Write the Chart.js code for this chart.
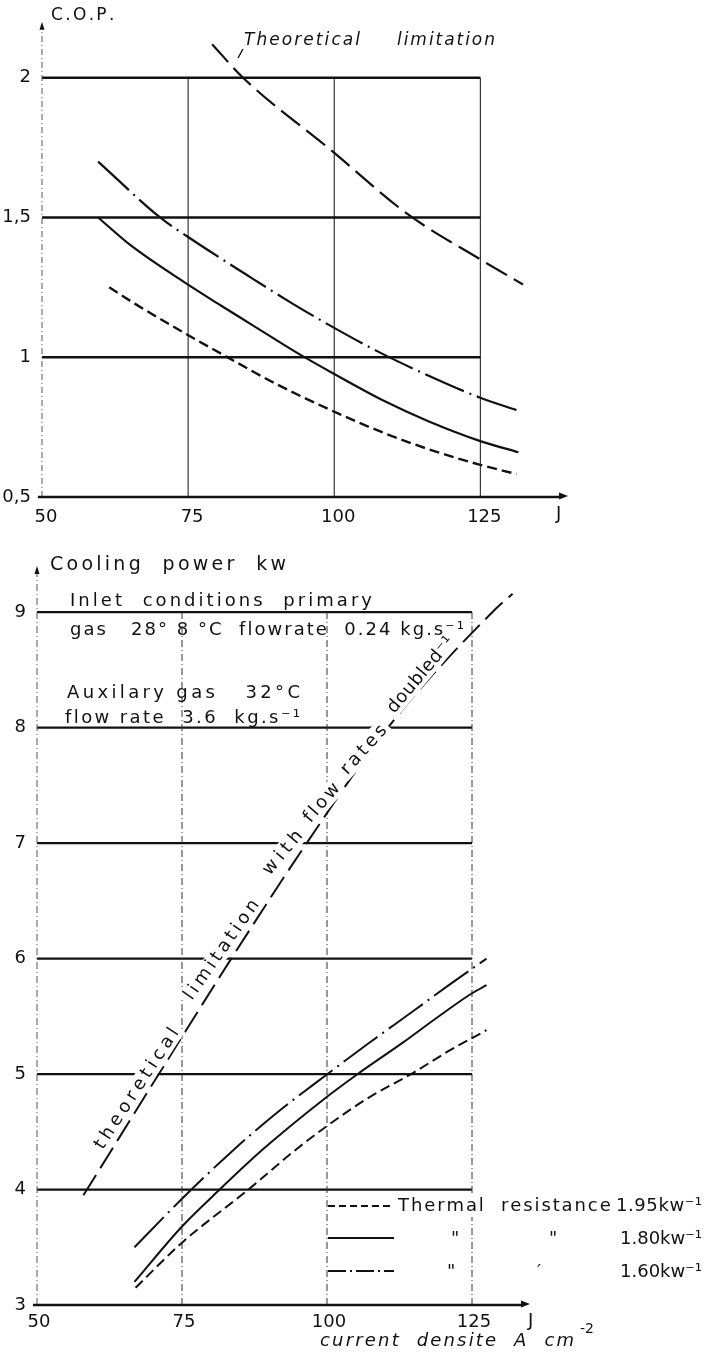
<!DOCTYPE html>
<html>
<head>
<meta charset="utf-8">
<script src="https://cdn.jsdelivr.net/npm/chart.js@4.4.1/dist/chart.umd.min.js"></script>
<style>
  html, body { margin: 0; padding: 0; background: #fff; width: 704px; height: 1355px; overflow: hidden; }
  #wrapTop { position: absolute; left: 0; top: 0; width: 704px; height: 540px; }
  #wrapBot { position: absolute; left: 0; top: 540px; width: 704px; height: 815px; }
</style>
</head>
<body>
<div id="wrapTop"><canvas id="chartCop" width="704" height="540"></canvas></div>
<div id="wrapBot"><canvas id="chartPower" width="704" height="815"></canvas></div>
<script>
// --- Datos figura superior: C.O.P. vs J ---
const J_TICKS = [50, 75, 100, 125];
const COP_TICKS = [0.5, 1, 1.5, 2];
const COP_THEO_J = [79.1, 84.4, 99.5, 112.7, 125, 132.3];
const COP_THEO   = [2.12, 2.0, 1.74, 1.51, 1.35, 1.26];
const COP_160_J = [59.6, 70.2, 75, 85, 93, 100, 107.5, 115, 125, 131.3];
const COP_160   = [1.70, 1.50, 1.43, 1.295, 1.19, 1.105, 1.02, 0.945, 0.855, 0.81];
const COP_180_J = [59.6, 65.2, 74.6, 80.6, 86, 93.3, 100, 108.4, 116, 125, 131.5];
const COP_180   = [1.50, 1.40, 1.265, 1.185, 1.115, 1.02, 0.94, 0.845, 0.772, 0.70, 0.66];
const COP_195_J = [61.5, 66, 74.5, 81.3, 90, 99.5, 109, 117, 125, 131.2];
const COP_195   = [1.25, 1.19, 1.085, 1.005, 0.905, 0.81, 0.725, 0.665, 0.615, 0.582];

// --- Datos figura inferior: Cooling power (kW) vs J ---
const KW_TICKS = [3, 4, 5, 6, 7, 8, 9];
const KW_THEO_J = [58, 71, 83.5, 96.5, 110.5, 128.5, 132];
const KW_THEO   = [3.95, 5.0, 6.0, 7.0, 8.0, 9.0, 9.16];
const KW_160_J = [66.8, 75, 83.6, 91, 99.8, 107, 115, 121, 127.5];
const KW_160   = [3.5, 3.92, 4.33, 4.65, 4.99, 5.26, 5.55, 5.77, 6.0];
const KW_180_J = [66.8, 75, 81.5, 89, 99.4, 105, 113, 119, 125, 127.5];
const KW_180   = [3.2, 3.68, 4.0, 4.35, 4.78, 4.99, 5.27, 5.49, 5.7, 5.77];
const KW_195_J = [67, 75, 86.7, 94, 100, 107, 114.5, 121, 127.5];
const KW_195   = [3.15, 3.54, 4.01, 4.32, 4.55, 4.79, 5.0, 5.2, 5.38];

const FONT = '"DejaVu Sans", sans-serif';
const INK = '#111';

const DASH_THEO = [24, 8];
const DASH_DOTDASH = [42, 6, 2, 6];
const DASH_SHORT = [10, 5];

function pts(xs, ys) { return xs.map((x, i) => ({ x, y: ys[i] })); }

function serie(xs, ys, dash, width) {
  return {
    data: pts(xs, ys),
    borderColor: INK,
    borderWidth: width,
    borderDash: dash,
    pointRadius: 0,
    fill: false,
    cubicInterpolationMode: 'monotone'
  };
}

function seg(ctx, chart, x1, y1, x2, y2) {
  const sx = chart.scales.x, sy = chart.scales.y;
  ctx.beginPath();
  ctx.moveTo(sx.getPixelForValue(x1), sy.getPixelForValue(y1));
  ctx.lineTo(sx.getPixelForValue(x2), sy.getPixelForValue(y2));
  ctx.stroke();
}

// texto con espaciado para llegar a un ancho dado (letras "de plantilla")
function spaced(ctx, text, x, y, width) {
  const chars = Array.from(text);
  const w = ctx.measureText(text).width;
  const extra = width && chars.length > 1 ? Math.max(0, (width - w) / (chars.length - 1)) : 0;
  let cx = x;
  for (const ch of chars) {
    ctx.fillText(ch, cx, y);
    cx += ctx.measureText(ch).width + extra;
  }
}

function arrowRight(ctx, x, y) {
  ctx.beginPath();
  ctx.moveTo(x, y); ctx.lineTo(x - 9, y - 3.5); ctx.lineTo(x - 9, y + 3.5);
  ctx.closePath(); ctx.fill();
}
function arrowUp(ctx, x, y) {
  ctx.beginPath();
  ctx.moveTo(x, y); ctx.lineTo(x - 2.5, y + 8); ctx.lineTo(x + 2.5, y + 8);
  ctx.closePath(); ctx.fill();
}

function axisOpts(min, max, ticks, fmt, fit, labelOffset, padding) {
  return {
    type: 'linear', min, max,
    grid: { display: false, drawTicks: false },
    border: { display: false },
    afterBuildTicks: (s) => { s.ticks = ticks.map(v => ({ value: v })); },
    afterFit: fit,
    ticks: {
      color: INK, padding, labelOffset: labelOffset || 0,
      font: { family: FONT, size: 18 },
      callback: fmt
    }
  };
}

// ---------------- Figura superior ----------------
const copDecor = {
  id: 'copDecor',
  beforeDatasetsDraw(chart) {
    const { ctx } = chart;
    const sx = chart.scales.x, sy = chart.scales.y;
    ctx.save();
    ctx.strokeStyle = INK; ctx.fillStyle = INK;
    ctx.lineWidth = 2.4;
    for (const v of [1, 1.5, 2]) seg(ctx, chart, 50, v, 125, v);
    ctx.lineWidth = 1;
    for (const v of [75, 100, 125]) seg(ctx, chart, v, 0.5, v, 2);
    // eje y (raya-punto fino)
    ctx.setLineDash([6, 3, 1, 3]);
    ctx.strokeStyle = '#555';
    seg(ctx, chart, 50, 0.5, 50, 2.17);
    ctx.setLineDash([]);
    arrowUp(ctx, sx.getPixelForValue(50), sy.getPixelForValue(2.2));
    // eje x con flecha
    ctx.strokeStyle = INK;
    ctx.lineWidth = 2.6;
    seg(ctx, chart, 49.3, 0.5, 138.5, 0.5);
    arrowRight(ctx, sx.getPixelForValue(140), sy.getPixelForValue(0.5) - 1);
    ctx.restore();
  },
  afterDatasetsDraw(chart) {
    const { ctx } = chart;
    ctx.save();
    ctx.fillStyle = INK; ctx.strokeStyle = INK;
    ctx.textBaseline = 'middle'; ctx.textAlign = 'left';
    ctx.font = `17px ${FONT}`;
    spaced(ctx, 'C.O.P.', 51, 16, 60);
    ctx.font = `italic 17px ${FONT}`;
    spaced(ctx, 'Theoretical', 244, 41, 116);
    spaced(ctx, 'limitation', 397, 41, 98);
    // pequeña flecha del rótulo a la curva
    ctx.lineWidth = 1.4;
    ctx.beginPath(); ctx.moveTo(243, 49); ctx.lineTo(238, 58); ctx.stroke();
    ctx.font = `18px ${FONT}`;
    ctx.fillText('J', 556, 514);
    ctx.restore();
  }
};

new Chart(document.getElementById('chartCop'), {
  type: 'line',
  data: {
    datasets: [
      serie(COP_THEO_J, COP_THEO, DASH_THEO, 2.2),
      serie(COP_160_J, COP_160, DASH_DOTDASH, 2.2),
      serie(COP_180_J, COP_180, [], 2.2),
      serie(COP_195_J, COP_195, DASH_SHORT, 2.4)
    ]
  },
  options: {
    responsive: false,
    animation: false,
    events: [],
    layout: { padding: { top: 10, right: 136, left: 0, bottom: 0 } },
    plugins: { legend: { display: false }, tooltip: { enabled: false } },
    scales: {
      x: axisOpts(50, 140, J_TICKS, v => String(v), s => { s.height = 43; }, 4, 10),
      y: axisOpts(0.5, 2.2, COP_TICKS, v => String(v).replace('.', ','), s => { s.width = 42; }, 0, 11)
    }
  },
  plugins: [copDecor]
});

// ---------------- Figura inferior ----------------
// rótulos girados sobre la curva teórica: [texto, cx, cy, ángulo°, largo]
const ROT_WORDS = [
  ['theoretical', 137, 549, -57, 140],
  ['limitation', 222, 410, -55, 118],
  ['with', 283, 313, -50, 52],
  ['flow', 322, 263, -49, 46],
  ['rates', 364, 210, -48, 60],
  ['doubled\u207B\u00B9', 421, 135, -50, 94]
];

const powerDecor = {
  id: 'powerDecor',
  beforeDatasetsDraw(chart) {
    const { ctx } = chart;
    const sx = chart.scales.x, sy = chart.scales.y;
    ctx.save();
    ctx.strokeStyle = INK; ctx.fillStyle = INK;
    ctx.lineWidth = 2.3;
    for (const v of [4, 5, 6, 7, 8, 9]) seg(ctx, chart, 50, v, 125, v);
    ctx.lineWidth = 1;
    ctx.strokeStyle = '#333';
    ctx.setLineDash([7, 3, 1, 3]);
    for (const v of [75, 100, 125]) seg(ctx, chart, v, 3, v, 9);
    ctx.strokeStyle = '#555';
    seg(ctx, chart, 50, 3, 50, 9.35);
    ctx.setLineDash([]);
    arrowUp(ctx, sx.getPixelForValue(50), sy.getPixelForValue(9.4));
    ctx.strokeStyle = INK;
    ctx.lineWidth = 2.6;
    seg(ctx, chart, 49.3, 3, 133.5, 3);
    arrowRight(ctx, sx.getPixelForValue(135), sy.getPixelForValue(3) - 1);
    ctx.restore();
  },
  afterDatasetsDraw(chart) {
    const { ctx } = chart;
    ctx.save();
    ctx.fillStyle = INK; ctx.strokeStyle = INK;
    ctx.textBaseline = 'middle'; ctx.textAlign = 'left';

    ctx.font = `19px ${FONT}`;
    spaced(ctx, 'Cooling  power  kw', 50, 25, 236);
    ctx.font = `18px ${FONT}`;
    spaced(ctx, 'Inlet  conditions  primary', 70, 61, 302);
    spaced(ctx, 'gas   28\u00B0 8 \u00B0C  flowrate  0.24 kg.s\u207B\u00B9', 70, 90, 394);
    spaced(ctx, 'Auxilary gas   32\u00B0C', 67, 153, 233);
    spaced(ctx, 'flow rate  3.6  kg.s\u207B\u00B9', 65, 178, 235);

    // rótulos a lo largo de la curva teórica
    ctx.font = `18px ${FONT}`;
    for (const [txt, cx, cy, ang, len] of ROT_WORDS) {
      ctx.save();
      ctx.translate(cx, cy);
      ctx.rotate(ang * Math.PI / 180);
      ctx.fillStyle = '#fff';
      ctx.fillRect(-len / 2 - 4, -10, len + 8, 19);
      ctx.fillStyle = INK;
      spaced(ctx, txt, -len / 2, 0, len);
      ctx.restore();
    }

    // leyenda
    ctx.lineWidth = 2.2;
    const rows = [[666, [7, 4]], [698, []], [731, [18, 4, 2, 4]]];
    ctx.fillStyle = '#fff';
    ctx.fillRect(396, 655, 308, 22);
    ctx.fillStyle = INK;
    for (const [y, dash] of rows) {
      ctx.setLineDash(dash);
      ctx.beginPath(); ctx.moveTo(328, y); ctx.lineTo(394, y); ctx.stroke();
    }
    ctx.setLineDash([]);
    ctx.font = `18px ${FONT}`;
    spaced(ctx, 'Thermal  resistance', 398, 666, 212);
    spaced(ctx, '1.95kw\u207B\u00B9', 616, 666, 86);
    ctx.fillText('"', 451, 699);
    ctx.fillText('"', 549, 699);
    spaced(ctx, '1.80kw\u207B\u00B9', 620, 699, 82);
    ctx.fillText('"', 447, 732);
    ctx.fillText('\u2032', 537, 732);
    spaced(ctx, '1.60kw\u207B\u00B9', 620, 732, 82);

    ctx.font = `18px ${FONT}`;
    ctx.fillText('J', 528, 781);
    ctx.font = `italic 18px ${FONT}`;
    spaced(ctx, 'current  densite  A  cm', 320, 801, 254);
    ctx.font = `14px ${FONT}`;
    ctx.fillText('-2', 580, 789);
    ctx.restore();
  }
};

new Chart(document.getElementById('chartPower'), {
  type: 'line',
  data: {
    datasets: [
      serie(KW_THEO_J, KW_THEO, DASH_THEO, 2),
      serie(KW_160_J, KW_160, DASH_DOTDASH, 2),
      serie(KW_180_J, KW_180, [], 2),
      serie(KW_195_J, KW_195, DASH_SHORT, 2)
    ]
  },
  options: {
    responsive: false,
    animation: false,
    events: [],
    layout: { padding: { top: 26, right: 145, left: 0, bottom: 0 } },
    plugins: { legend: { display: false }, tooltip: { enabled: false } },
    scales: {
      x: axisOpts(50, 140, J_TICKS, v => String(v), s => { s.height = 50; }, 2, 7),
      y: axisOpts(3, 9.4, KW_TICKS, v => String(v), s => { s.width = 37; }, 0, 11)
    }
  },
  plugins: [powerDecor]
});
</script>
</body>
</html>
